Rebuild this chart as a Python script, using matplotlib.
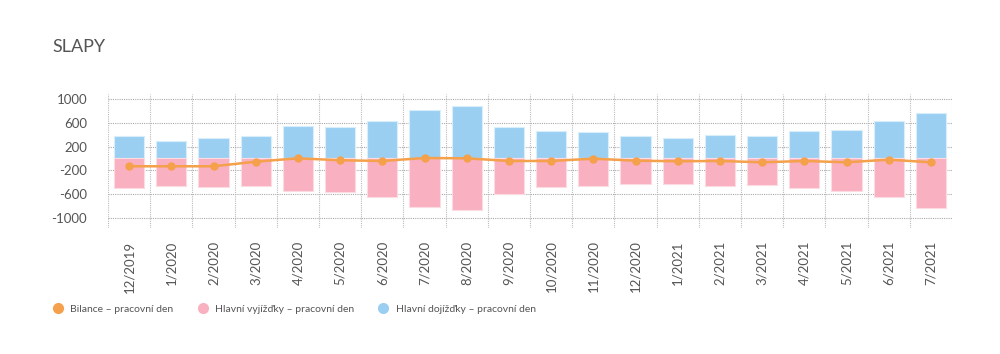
import matplotlib.pyplot as plt
from matplotlib.lines import Line2D
import numpy as np

plt.rcParams['font.family'] = ['Lato', 'DejaVu Sans']

# Data
months = ['12/2019', '1/2020', '2/2020', '3/2020', '4/2020', '5/2020', '6/2020',
          '7/2020', '8/2020', '9/2020', '10/2020', '11/2020', '12/2020', '1/2021',
          '2/2021', '3/2021', '4/2021', '5/2021', '6/2021', '7/2021']
dojizdky = [378, 294, 345, 378, 546, 529, 630, 815, 877, 529,
            457, 440, 373, 339, 390, 373, 457, 484, 625, 765]
vyjizdky = [-501, -457, -479, -457, -541, -568, -647, -821, -871, -602,
            -484, -457, -429, -429, -457, -451, -490, -546, -653, -827]
bilance = [-131, -131, -131, -54, 3, -30, -42, 8, 3, -42,
           -42, -3, -37, -47, -42, -64, -42, -64, -20, -64]
yticks = [1000, 600, 200, -200, -600, -1000]

c_blue = '#9acff2'
c_pink = '#f9b0c0'
c_orange = '#f5a04a'
c_text = '#555555'

fig = plt.figure(figsize=(10, 3.54), dpi=100)
ax = fig.add_axes([0.108, 0.356, 0.844, 0.3785])

x = np.arange(len(months))
ax.bar(x, dojizdky, width=0.72, color=c_blue, edgecolor='#d8eefb', linewidth=0.8, zorder=2)
ax.bar(x, vyjizdky, width=0.72, color=c_pink, edgecolor='#fcdbe2', linewidth=0.8, zorder=2)
ax.plot(x, bilance, color=c_orange, linewidth=1.8, marker='o', markersize=5, zorder=3)

ax.set_xlim(-0.5, len(months) - 0.5)
ax.set_ylim(-1168, 1084)
ax.set_yticks(yticks)
ax.set_yticklabels([str(v) if v > 0 else '-' + str(-v) for v in yticks])
ax.set_xticks(x)
ax.set_xticklabels(months, rotation=90)
ax.set_xticks(np.arange(-0.5, len(months)), minor=True)

ax.grid(axis='y', which='major', color='#aaaaaa', linestyle=(0, (1, 1)), linewidth=0.8, zorder=0)
ax.grid(axis='x', which='minor', color='#bbbbbb', linestyle=(0, (1, 1)), linewidth=0.8, zorder=0)
ax.tick_params(axis='both', which='both', length=0, colors=c_text, labelsize=9.5)
ax.tick_params(axis='y', pad=15)
ax.tick_params(axis='x', pad=9)
for s in ax.spines.values():
    s.set_visible(False)

fig.text(0.052, 0.853, 'SLAPY', fontsize=13, color=c_text, va='baseline')

handles = [
    Line2D([], [], linestyle='none', marker='o', markersize=7, color=c_orange),
    Line2D([], [], linestyle='none', marker='o', markersize=7, color=c_pink),
    Line2D([], [], linestyle='none', marker='o', markersize=7, color=c_blue),
]
labels = ['Bilance – pracovní den', 'Hlavní vyjížďky – pracovní den',
          'Hlavní dojížďky – pracovní den']
fig.legend(handles, labels, loc='center left', bbox_to_anchor=(0.04, 0.127), ncol=3,
           frameon=False, fontsize=7.5, labelcolor=c_text, handletextpad=0.4,
           handlelength=1.6, columnspacing=2.0)

fig.savefig('out.png', dpi=100)
